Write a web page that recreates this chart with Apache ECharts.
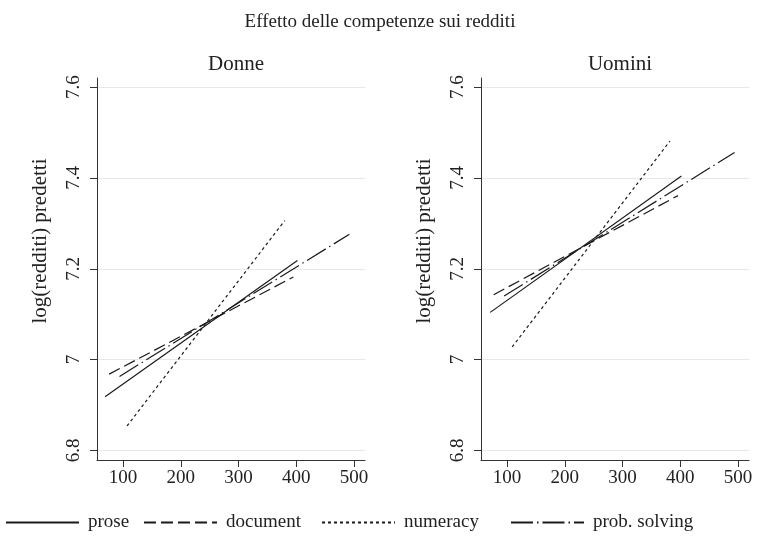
<!DOCTYPE html>
<html>
<head>
<meta charset="utf-8">
<script src="https://cdn.jsdelivr.net/npm/echarts@6/dist/echarts.min.js"></script>
<style>html,body{margin:0;padding:0;background:#fff}#c{width:760px;height:543px}</style>
</head>
<body>
<div id="c"></div>
<script>
// ---- data ----
const mainTitle = 'Effetto delle competenze sui redditi';
const panelTitles = ['Donne', 'Uomini'];
const yAxisTitle = 'log(redditi) predetti';
const seriesNames = ['prose', 'document', 'numeracy', 'prob. solving'];
const xTicks = [100, 200, 300, 400, 500];
const yTicks = [6.8, 7, 7.2, 7.4, 7.6];
// [score, predicted log income] endpoints of each fitted line
const donneProse = [[69, 6.918], [402, 7.218]];
const donneDocument = [[76, 6.968], [395, 7.182]];
const donneNumeracy = [[107, 6.854], [380, 7.306]];
const donneProbSolving = [[94, 6.963], [492, 7.276]];
const uominiProse = [[71, 7.104], [402, 7.404]];
const uominiDocument = [[77, 7.143], [396, 7.361]];
const uominiNumeracy = [[109, 7.028], [382, 7.481]];
const uominiProbSolving = [[95, 7.140], [494, 7.456]];

const FONT = 'Liberation Serif';
const INK = '#1a1a1a';
const dashes = ['solid', [12, 5], [3, 3], [22, 4, 1.5, 4]];
const panels = [
  [donneProse, donneDocument, donneNumeracy, donneProbSolving],
  [uominiProse, uominiDocument, uominiNumeracy, uominiProbSolving]
];
const gridLefts = [97, 481];
const gridW = 268;
const legendLefts = [5, 143, 321, 510];

const grids = gridLefts.map(l => ({left: l, width: gridW, top: 78, height: 382}));
const xAxes = gridLefts.map((_, i) => ({
  type: 'value', gridIndex: i, min: 55, max: 519,
  axisLine: {show: true, lineStyle: {color: '#333', width: 1}},
  axisTick: {show: true, length: 7, customValues: xTicks, lineStyle: {color: '#333'}},
  axisLabel: {customValues: xTicks, margin: 9, fontFamily: FONT, fontSize: 19, color: '#222'},
  splitLine: {show: false}
}));
const yAxes = gridLefts.map((_, i) => ({
  type: 'value', gridIndex: i, min: 6.779, max: 7.62,
  name: yAxisTitle, nameLocation: 'middle', nameRotate: 90, nameGap: 46,
  nameTextStyle: {fontFamily: FONT, fontSize: 21, color: '#222', padding: [0, 0, 0, 56]},
  axisLine: {show: true, lineStyle: {color: '#333', width: 1}},
  axisTick: {show: true, length: 7, customValues: yTicks, lineStyle: {color: '#333'}},
  axisLabel: {customValues: yTicks, rotate: 90, margin: 13, fontFamily: FONT, fontSize: 19, color: '#222',
    formatter: v => String(Math.round(v * 10) / 10)},
  splitLine: {show: true, lineStyle: {color: '#e8e8e8', width: 1}}
}));

const series = [];
panels.forEach((lines, p) => {
  lines.forEach((pts, k) => {
    series.push({
      name: seriesNames[k], type: 'line', xAxisIndex: p, yAxisIndex: p,
      data: pts, symbol: 'none', silent: true, animation: false,
      lineStyle: {color: INK, width: 1.2, type: dashes[k]},
      itemStyle: {color: INK}
    });
  });
});

const legends = seriesNames.map((n, k) => ({
  data: [n], left: legendLefts[k], top: 513, padding: 0, itemWidth: 73, itemHeight: 20, itemGap: 0,
  itemStyle: {opacity: 0},
  textStyle: {fontFamily: FONT, fontSize: 19, color: '#222', padding: [0, 0, 0, 4]},
  selectedMode: false
}));

const chart = echarts.init(document.getElementById('c'), null, {renderer: 'canvas'});
chart.setOption({
  backgroundColor: '#fff',
  animation: false,
  title: [
    {text: mainTitle, left: 'center', top: 8, textStyle: {fontFamily: FONT, fontSize: 19, fontWeight: 'normal', color: '#222'}},
    {text: panelTitles[0], left: gridLefts[0] + gridW / 2, textAlign: 'center', top: 49, textStyle: {fontFamily: FONT, fontSize: 21, fontWeight: 'normal', color: '#222'}},
    {text: panelTitles[1], left: gridLefts[1] + gridW / 2, textAlign: 'center', top: 49, textStyle: {fontFamily: FONT, fontSize: 21, fontWeight: 'normal', color: '#222'}}
  ],
  legend: legends,
  grid: grids,
  xAxis: xAxes,
  yAxis: yAxes,
  series: series
});
</script>
</body>
</html>
